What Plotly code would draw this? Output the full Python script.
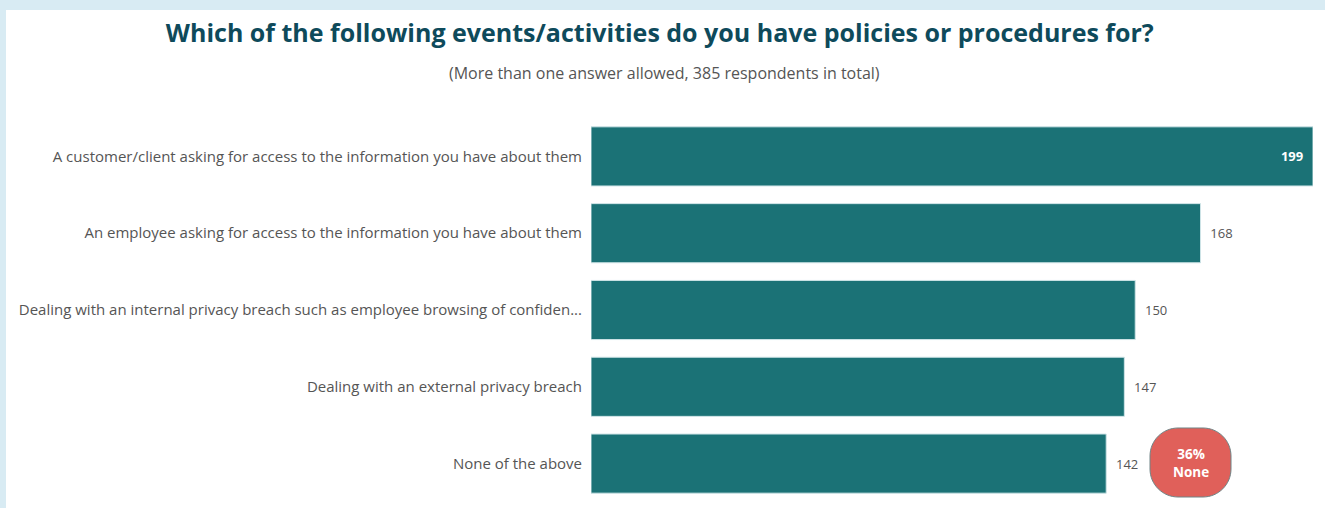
import plotly.graph_objects as go

# Survey responses
categories = [
    "A customer/client asking for access to the information you have about them",
    "An employee asking for access to the information you have about them",
    "Dealing with an internal privacy breach such as employee browsing of confiden...",
    "Dealing with an external privacy breach",
    "None of the above",
]
counts = [199, 168, 150, 147, 142]
total_respondents = 385
none_share = "36%"

BAR_COLOR = "#1b7276"
LABEL_GRAY = "#555555"
BORDER_BLUE = "#d8ebf3"
FONT = "Open Sans"
NB = "\u00a0"

# Pixel layout of the page
W, H = 1325, 508
M_L, M_R, M_T, M_B = 591, 12, 118, 6

positions = ["inside"] + ["outside"] * (len(counts) - 1)
text_colors = ["white"] + [LABEL_GRAY] * (len(counts) - 1)
labels = [f"<b>{counts[0]}</b>{NB * 2}"] + [f"{NB * 2}{c}" for c in counts[1:]]

fig = go.Figure(
    go.Bar(
        x=counts,
        y=list(range(len(categories))),
        orientation="h",
        marker=dict(color=BAR_COLOR, line=dict(color="#cfe4e7", width=1)),
        text=labels,
        textposition=positions,
        insidetextanchor="end",
        textfont=dict(family=FONT, size=13, color=text_colors),
        cliponaxis=False,
        width=0.77,
        hoverinfo="x+y",
    )
)

fig.update_layout(
    width=W,
    height=H,
    margin=dict(l=M_L, r=M_R, t=M_T, b=M_B),
    paper_bgcolor="white",
    plot_bgcolor="white",
    showlegend=False,
    font=dict(family=FONT, color=LABEL_GRAY),
    title=dict(
        text="<b>Which of the following events/activities do you have policies or procedures for?</b>",
        x=0.498,
        xanchor="center",
        y=1 - 33 / H,
        yanchor="middle",
        font=dict(family=FONT, size=25, color="#0e4a5b"),
    ),
)

fig.update_xaxes(range=[0, max(counts)], visible=False, fixedrange=True)
fig.update_yaxes(
    tickmode="array",
    tickvals=list(range(len(categories))),
    ticktext=categories,
    range=[len(categories) - 0.5, -0.5],
    showgrid=False,
    zeroline=False,
    showline=False,
    ticks="",
    ticklabelstandoff=8,
    tickfont=dict(family=FONT, size=15, color=LABEL_GRAY),
)

# Subtitle
plot_w = W - M_L - M_R
plot_h = H - M_T - M_B


def px_to_paper(px, py):
    return (px - M_L) / plot_w, (H - M_B - py) / plot_h


sx, sy = px_to_paper(664, 73)
fig.add_annotation(
    text=f"(More than one answer allowed, {total_respondents} respondents in total)",
    xref="paper", yref="paper", x=sx, y=sy,
    xanchor="center", yanchor="middle",
    showarrow=False,
    font=dict(family=FONT, size=16, color=LABEL_GRAY),
)

# Page frame strips (top and left)
x0, y0 = px_to_paper(0, 0)
x1, y1 = px_to_paper(W, 10)
fig.add_shape(type="rect", xref="paper", yref="paper", x0=x0, y0=y0, x1=x1, y1=y1,
              fillcolor=BORDER_BLUE, line=dict(width=0), layer="above")
x0, y0 = px_to_paper(0, 0)
x1, y1 = px_to_paper(6, H)
fig.add_shape(type="rect", xref="paper", yref="paper", x0=x0, y0=y0, x1=x1, y1=y1,
              fillcolor=BORDER_BLUE, line=dict(width=0), layer="above")

# Rounded badge next to the "None of the above" bar (circular corners via cubic arcs)
bx0, bx1, by0, by1, r = 1150, 1231, 428, 497, 28
k = r * 0.5523


def pp(px, py):
    a, b = px_to_paper(px, py)
    return f"{a:.5f},{b:.5f}"


path = (
    f"M {pp(bx0 + r, by0)} L {pp(bx1 - r, by0)} "
    f"C {pp(bx1 - r + k, by0)} {pp(bx1, by0 + r - k)} {pp(bx1, by0 + r)} "
    f"L {pp(bx1, by1 - r)} "
    f"C {pp(bx1, by1 - r + k)} {pp(bx1 - r + k, by1)} {pp(bx1 - r, by1)} "
    f"L {pp(bx0 + r, by1)} "
    f"C {pp(bx0 + r - k, by1)} {pp(bx0, by1 - r + k)} {pp(bx0, by1 - r)} "
    f"L {pp(bx0, by0 + r)} "
    f"C {pp(bx0, by0 + r - k)} {pp(bx0 + r - k, by0)} {pp(bx0 + r, by0)} Z"
)
fig.add_shape(type="path", xref="paper", yref="paper", path=path,
              fillcolor="#e0605a", line=dict(color="#6f8486", width=1), layer="above")
cx, cy = px_to_paper((bx0 + bx1) / 2, (by0 + by1) / 2)
fig.add_annotation(
    text=f"<b>{none_share}<br>None</b>",
    xref="paper", yref="paper", x=cx, y=cy,
    xanchor="center", yanchor="middle", showarrow=False,
    font=dict(family=FONT, size=13.5, color="white"),
)

fig.write_html("out.html")
